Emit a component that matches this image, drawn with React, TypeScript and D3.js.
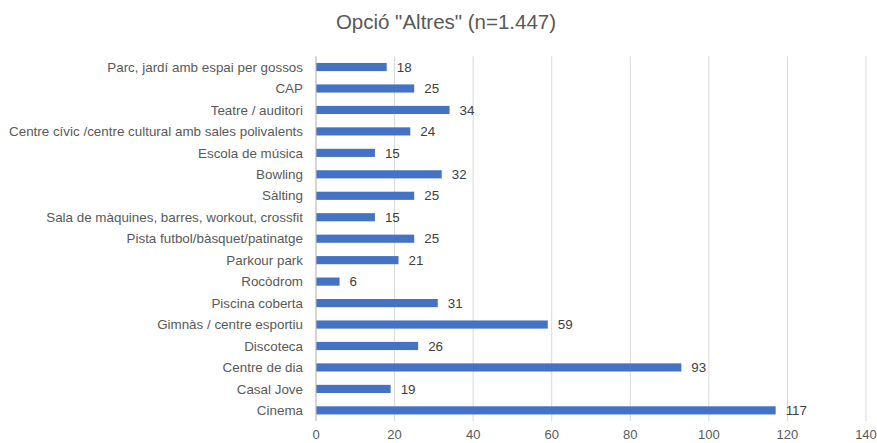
import React, { useEffect, useRef } from "react";
import * as d3 from "d3";

const categories = [
  "Parc, jardí amb espai per gossos",
  "CAP",
  "Teatre / auditori",
  "Centre cívic /centre cultural amb sales polivalents",
  "Escola de música",
  "Bowling",
  "Sàlting",
  "Sala de màquines, barres, workout, crossfit",
  "Pista futbol/bàsquet/patinatge",
  "Parkour park",
  "Rocòdrom",
  "Piscina coberta",
  "Gimnàs / centre esportiu",
  "Discoteca",
  "Centre de dia",
  "Casal Jove",
  "Cinema",
];
const values = [18, 25, 34, 24, 15, 32, 25, 15, 25, 21, 6, 31, 59, 26, 93, 19, 117];
const xTicks = [0, 20, 40, 60, 80, 100, 120, 140];

const W = 877;
const H = 443;
const FONT = "'Liberation Sans', sans-serif";

const App: React.FC = () => {
  const svgRef = useRef<SVGSVGElement>(null);

  useEffect(() => {
    const svg = d3.select(svgRef.current);
    svg.selectAll("*").remove();

    const x = d3.scaleLinear().domain([0, 140]).range([316, 866]);
    const y = d3.scaleBand().domain(categories).range([56.3, 421.1]).paddingInner(0.62).paddingOuter(0.31);

    svg
      .append("text")
      .attr("x", 446)
      .attr("y", 29)
      .attr("text-anchor", "middle")
      .attr("font-family", FONT)
      .attr("font-size", 20.5)
      .attr("fill", "#595959")
      .text('Opció "Altres" (n=1.447)');

    // grid
    svg
      .append("g")
      .selectAll("line")
      .data(xTicks)
      .join("line")
      .attr("x1", (d) => x(d))
      .attr("x2", (d) => x(d))
      .attr("y1", 56.3)
      .attr("y2", 421.1)
      .attr("stroke", "#d9d9d9")
      .attr("stroke-width", 1);

    svg
      .append("g")
      .selectAll("text")
      .data(xTicks)
      .join("text")
      .attr("x", (d) => x(d))
      .attr("y", 439)
      .attr("text-anchor", "middle")
      .attr("font-family", FONT)
      .attr("font-size", 13)
      .attr("fill", "#595959")
      .text((d) => d);

    svg
      .append("g")
      .selectAll("rect")
      .data(values)
      .join("rect")
      .attr("x", x(0))
      .attr("y", (d, i) => y(categories[i])!)
      .attr("width", (d) => x(d) - x(0))
      .attr("height", y.bandwidth())
      .attr("fill", "#4472c4");

    svg
      .append("line")
      .attr("x1", x(0))
      .attr("x2", x(0))
      .attr("y1", 56.3)
      .attr("y2", 421.1)
      .attr("stroke", "#bfbfbf");

    svg
      .append("g")
      .selectAll("text")
      .data(values)
      .join("text")
      .attr("x", (d) => x(d) + 10)
      .attr("y", (d, i) => y(categories[i])! + y.bandwidth() / 2)
      .attr("dy", "0.35em")
      .attr("font-family", FONT)
      .attr("font-size", 13.4)
      .attr("fill", "#404040")
      .text((d) => d);

    svg
      .append("g")
      .selectAll("text")
      .data(categories)
      .join("text")
      .attr("x", 303)
      .attr("y", (d) => y(d)! + y.bandwidth() / 2)
      .attr("dy", "0.35em")
      .attr("text-anchor", "end")
      .attr("font-family", FONT)
      .attr("font-size", 13.4)
      .attr("fill", "#595959")
      .text((d) => d);
  }, []);

  return (
    <div style={{ position: "absolute", left: 0, top: 0, width: W, height: H, background: "#fff" }}>
      <svg ref={svgRef} width={W} height={H} />
    </div>
  );
};

export default App;
